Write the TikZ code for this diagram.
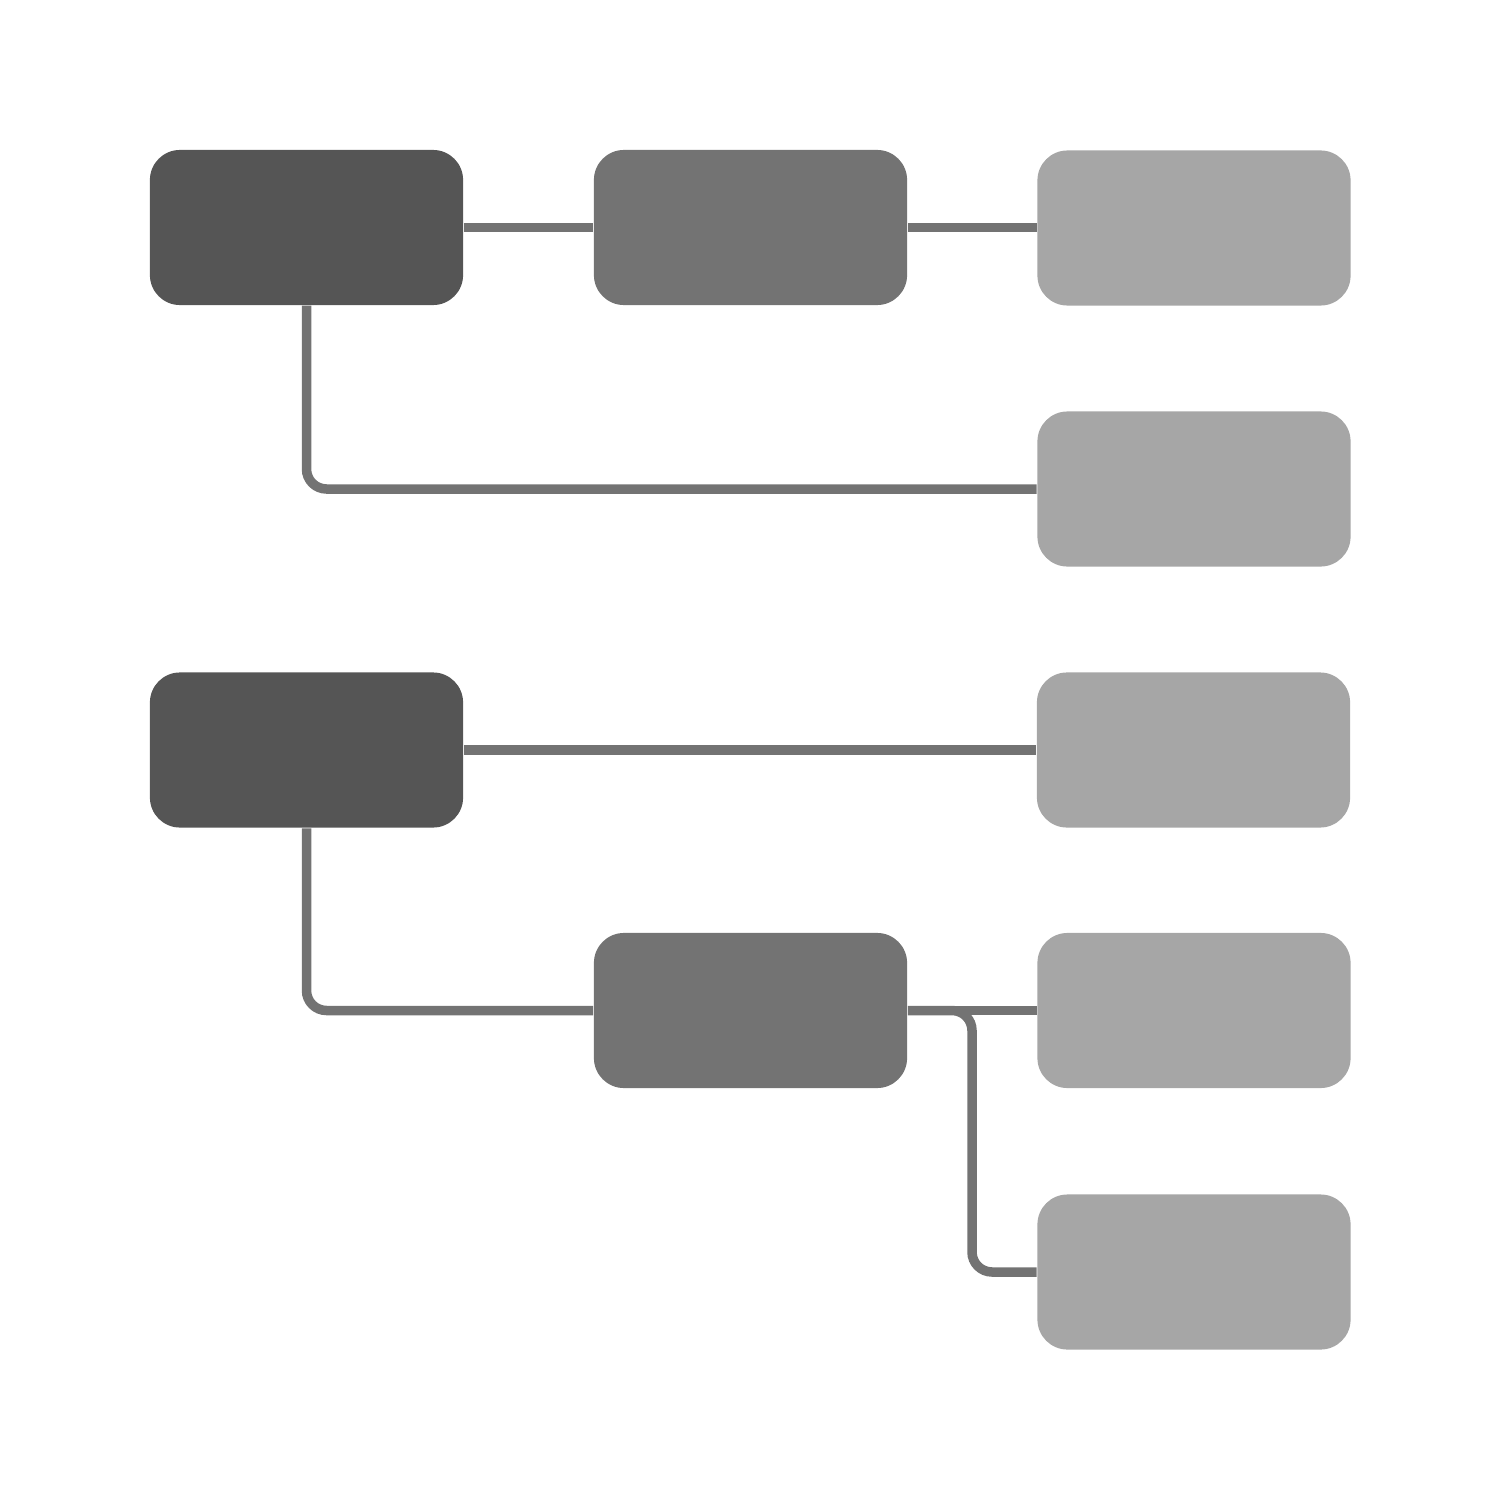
\documentclass[tikz,border=0pt]{standalone}
\usetikzlibrary{backgrounds}
\definecolor{darkbox}{HTML}{555555}
\definecolor{midbox}{HTML}{737373}
\definecolor{lightbox}{HTML}{A6A6A6}
\definecolor{linecol}{HTML}{737373}
\begin{document}
\begin{tikzpicture}[x=0.01cm,y=-0.01cm,
  box/.style={rectangle, rounded corners=0.3cm, minimum width=3.13cm, minimum height=1.55cm, inner sep=0pt, draw=none},
  dbox/.style={box, fill=darkbox},
  mbox/.style={box, fill=midbox},
  lbox/.style={box, fill=lightbox},
  conn/.style={draw=linecol, line width=0.095cm, rounded corners=0.2cm}]
\useasboundingbox (0,0) rectangle (1500,1500);
\node[dbox] (A1) at (306.5,227.5) {};
\node[mbox] (B1) at (750.5,227.5) {};
\node[lbox] (C1) at (1194,228) {};
\node[lbox] (C2) at (1194,489) {};
\node[dbox] (A2) at (306.5,750) {};
\node[lbox] (C3) at (1193.5,750) {};
\node[mbox] (B2) at (750.5,1010.5) {};
\node[lbox] (C4) at (1194,1010.5) {};
\node[lbox] (C5) at (1194,1272) {};
\coordinate (j) at (972,1010.5);
\begin{scope}[on background layer]
\draw[conn] (A1.east) -- (B1.west);
\draw[conn] (B1.east) -- (B1.east -| C1.west);
\draw[conn] (A1.south) |- (C2.west);
\draw[conn] (A2.east) -- (C3.west);
\draw[conn] (A2.south) |- (B2.west);
\draw[conn] (B2.east) -- (C4.west);
\draw[conn] (B2.east) -- (j) |- (C5.west);
\end{scope}
\end{tikzpicture}
\end{document}
